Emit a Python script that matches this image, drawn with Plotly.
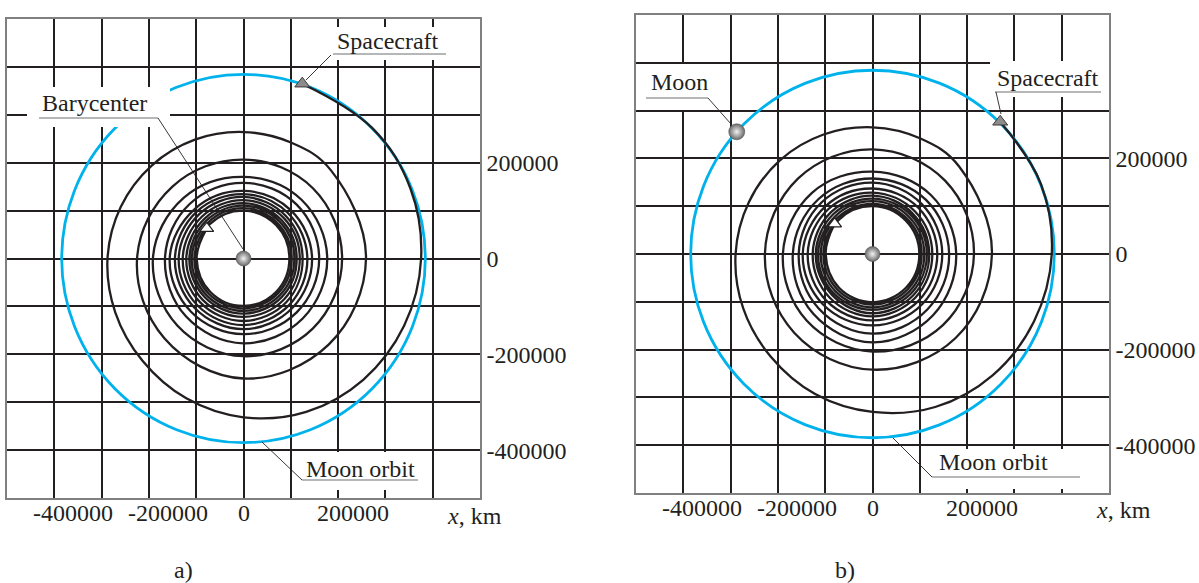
import math
import plotly.graph_objects as go

# ---------------- data (km) ----------------
MOON_ORBIT_R = 384400

# compass directions (deg) at which each revolution of the spiral was sampled
spiral_dirs_deg = [180, 225, 270, 315, 360, 405, 450, 495]

# panel a) trajectory: start point, one row per revolution, final arc to the spacecraft (deg, km)
spiral_a_start = (141.0, 100000)
spiral_a_rows = [
    [99000, 99000, 99000, 98000, 97000, 98000, 100000, 101000],
    [104000, 104000, 104000, 103000, 102000, 103000, 105000, 106000],
    [109500, 109500, 109500, 108500, 107500, 108500, 110500, 111500],
    [114500, 115000, 115000, 114000, 112500, 113500, 115500, 117000],
    [121000, 122000, 122000, 121000, 119000, 120000, 122000, 124000],
    [128500, 129500, 130500, 128500, 125000, 126000, 128500, 131500],
    [137000, 138000, 139000, 137000, 135000, 133500, 134500, 139000],
    [145000, 146000, 147500, 146000, 145000, 142000, 141000, 146000],
    [156000, 157000, 158000, 159000, 160000, 159000, 158000, 161000],
    [166000, 171500, 177000, 177000, 177000, 173500, 170500, 179000],
    [191500, 198000, 204000, 207000, 208500, 207500, 206500, 212500],
    [225000, 236000, 250500, 254500, 259000, 261000],
]
spiral_a_tail = [(67.5, 262000), (90.0, 264000), (112.5, 268500), (135.0, 274500),
                 (157.5, 281000), (180.0, 287500), (202.5, 293500), (225.0, 302000),
                 (247.5, 316000), (270.0, 331500), (292.5, 346500), (315.0, 358000),
                 (337.5, 367500), (360.0, 375500), (22.5, 382000), (45.0, 385000),
                 (71.2, 385500)]

# panel b) trajectory
spiral_b_start = (141.7, 102000)
spiral_b_rows = [
    [99000, 100000, 101000, 100000, 99000, 99000, 100000, 101000],
    [104000, 105000, 106000, 105000, 104000, 104000, 105000, 106000],
    [109500, 110500, 111500, 110500, 109500, 109500, 110500, 111500],
    [115000, 116000, 117000, 116000, 115000, 115000, 116000, 117500],
    [120000, 121000, 124000, 122000, 120000, 120000, 122000, 124000],
    [126500, 128500, 130500, 128500, 126500, 126500, 128500, 132500],
    [137000, 138000, 139000, 138000, 137000, 137000, 137000, 141000],
    [147500, 148500, 149500, 148500, 147500, 147500, 149500, 152500],
    [156000, 161000, 166500, 164000, 162000, 160000, 158000, 162000],
    [168500, 177000, 185000, 181000, 177000, 174500, 172500, 181000],
    [189500, 197000, 204000, 210500, 214500, 217000, 219000, 223000],
    [227500, 233500, 242000, 248500, 252500, 259000],
]
spiral_b_tail = [(67.5, 262000), (90.0, 265000), (112.5, 270500), (135.0, 277000),
                 (157.5, 283000), (180.0, 289500), (202.5, 296000), (225.0, 304000),
                 (247.5, 317000), (270.0, 330500), (292.5, 346500), (315.0, 359000),
                 (337.5, 369500), (360.0, 379000), (22.5, 385000), (45.7, 386500)]

# Moon position in panel b) (deg, km)
moon_b = (138.3, 384400)

x_tick_vals = [-400000, -200000, 0, 200000]
x_tick_text = ["-400000", "-200000", "0", "200000"]
y_tick_vals = [-400000, -300000, -200000, -100000, 0, 100000, 200000, 300000, 400000]
y_tick_text = ["-400000", "", "-200000", "", "0", "", "200000", "", ""]

# ---------------- styling ----------------
W, H = 1199, 583
INK = "#231f20"
CYAN = "rgb(0,178,236)"
FONT = "Liberation Serif"
FS = 24


def polar_to_xy(deg, r):
    a = math.radians(deg)
    return r * math.cos(a), r * math.sin(a)


def spiral_path(start, rows, tail):
    pts = [start]
    for row in rows:
        pts += list(zip(spiral_dirs_deg, row))
    pts += tail
    xs, ys = zip(*(polar_to_xy(d, r) for d, r in pts))
    return list(xs), list(ys)


def px(x, y):
    """page pixel -> paper coordinates"""
    return x / W, 1 - y / H


fig = go.Figure()
shapes = []
annotations = []

panels = [
    dict(xa="x", ya="y", start=spiral_a_start, rows=spiral_a_rows, tail=spiral_a_tail,
         xdom=(7, 480), ydom=(19, 498)),
    dict(xa="x2", ya="y2", start=spiral_b_start, rows=spiral_b_rows, tail=spiral_b_tail,
         xdom=(636, 1109), ydom=(15, 493)),
]

for p in panels:
    # Moon orbit
    shapes.append(dict(type="circle", xref=p["xa"], yref=p["ya"], layer="between",
                       x0=-MOON_ORBIT_R, x1=MOON_ORBIT_R, y0=-MOON_ORBIT_R, y1=MOON_ORBIT_R,
                       line=dict(color=CYAN, width=2.8)))
    sx, sy = spiral_path(p["start"], p["rows"], p["tail"])
    fig.add_trace(go.Scatter(
        x=sx, y=sy, xaxis=p["xa"], yaxis=p["ya"], mode="lines",
        line=dict(color=INK, width=2.3, shape="spline", smoothing=1.1),
        hoverinfo="skip", showlegend=False))
    # barycenter
    fig.add_trace(go.Scatter(
        x=[0], y=[0], xaxis=p["xa"], yaxis=p["ya"], mode="markers",
        marker=dict(symbol="circle", size=15, color="#6a6a6a",
                    gradient=dict(type="radial", color="#f2f2f2"),
                    line=dict(color="#555555", width=0.6)),
        showlegend=False, hoverinfo="skip"))
    # start of the trajectory
    x0, y0 = polar_to_xy(*p["start"])
    fig.add_trace(go.Scatter(
        x=[x0], y=[y0], xaxis=p["xa"], yaxis=p["ya"], mode="markers",
        marker=dict(symbol="triangle-up", size=12, color="white",
                    line=dict(color=INK, width=1.2)),
        showlegend=False, hoverinfo="skip"))
    # spacecraft (last point of the trajectory)
    x1, y1 = polar_to_xy(*p["tail"][-1])
    fig.add_trace(go.Scatter(
        x=[x1], y=[y1], xaxis=p["xa"], yaxis=p["ya"], mode="markers",
        marker=dict(symbol="triangle-up", size=13, color="#8c8c8c",
                    line=dict(color="#3a3a3a", width=1)),
        showlegend=False, hoverinfo="skip"))
    # x tick labels
    for v, t in zip(x_tick_vals, x_tick_text):
        annotations.append(dict(
            x=v, y=-500000, xref=p["xa"], yref=p["ya"], text=t, showarrow=False,
            xanchor="center" if v == 0 else "left", xshift=0 if v == 0 else -23,
            yanchor="middle", yshift=-15, font=dict(family=FONT, size=FS, color=INK)))

# Moon in panel b)
mx, my = polar_to_xy(*moon_b)
fig.add_trace(go.Scatter(
    x=[mx], y=[my], xaxis="x2", yaxis="y2", mode="markers",
    marker=dict(symbol="circle", size=16, color="#6a6a6a",
                gradient=dict(type="radial", color="#f2f2f2"),
                line=dict(color="#555555", width=0.6)),
    showlegend=False, hoverinfo="skip"))


def callout(text, box, center, underline, leader):
    bx0, by0 = px(box[0], box[1])
    bx1, by1 = px(box[2], box[3])
    shapes.append(dict(type="rect", xref="paper", yref="paper", layer="above",
                       x0=bx0, x1=bx1, y0=by1, y1=by0,
                       fillcolor="white", line=dict(width=0)))
    ux0, uy = px(underline[0], underline[2])
    ux1, _ = px(underline[1], underline[2])
    shapes.append(dict(type="line", xref="paper", yref="paper", layer="above",
                       x0=ux0, x1=ux1, y0=uy, y1=uy,
                       line=dict(color="#6d6e71", width=1)))
    lx0, ly0 = px(leader[0], leader[1])
    lx1, ly1 = px(leader[2], leader[3])
    shapes.append(dict(type="line", xref="paper", yref="paper", layer="above",
                       x0=lx0, x1=lx1, y0=ly0, y1=ly1,
                       line=dict(color=INK, width=0.9)))
    cx, cy = px(*center)
    annotations.append(dict(x=cx, y=cy, xref="paper", yref="paper", text=text,
                            showarrow=False, xanchor="center", yanchor="middle",
                            font=dict(family=FONT, size=FS, color=INK)))


# panel a) callouts
callout("Barycenter", (27, 87, 170, 127), (94, 103), (39, 158, 118), (158, 118, 243, 249))
callout("Spacecraft", (330, 27, 448, 60), (388, 41), (333, 446, 54), (331, 55, 306, 80))
callout("Moon orbit", (294, 452, 427, 490), (360, 469), (302, 418, 480), (302, 480, 262, 442))
# panel b) callouts
callout("Moon", (640, 64, 722, 110), (679, 82), (646, 708, 98), (708, 98, 731, 124))
callout("Spacecraft", (990, 61, 1109, 97), (1048, 78), (995, 1101, 92), (996, 92, 1001, 114))
callout("Moon orbit", (926, 449, 1088, 489), (994, 462), (932, 1080, 477), (932, 477, 893, 438))

# axis titles and panel captions
for xa, ya, xs, ys, ysh_x, ysh_y in [("x", "y", 425000, 535000, -18, -4),
                                      ("x2", "y2", 469000, 533000, -17, 1)]:
    annotations.append(dict(x=xs, y=-500000, xref=xa, yref=ya, text="<i>x</i>, km",
                            showarrow=False, xanchor="left", yanchor="middle", yshift=ysh_x,
                            font=dict(family=FONT, size=FS, color=INK)))
    annotations.append(dict(x=ys, y=500000, xref=xa, yref=ya, text="<i>y</i>, km",
                            showarrow=False, xanchor="left", yanchor="middle", yshift=ysh_y,
                            font=dict(family=FONT, size=FS, color=INK)))

for label, (cx, cy) in [("a)", (183, 570)), ("b)", (845, 570))]:
    x, y = px(cx, cy)
    annotations.append(dict(x=x, y=y, xref="paper", yref="paper", text=label,
                            showarrow=False, xanchor="center", yanchor="middle",
                            font=dict(family=FONT, size=FS, color=INK)))

axis_common = dict(range=[-500000, 500000], showgrid=True, gridcolor=INK, gridwidth=1.6,
                   zeroline=True, zerolinecolor=INK, zerolinewidth=1.6,
                   showline=True, mirror=True, linecolor="#808080", linewidth=1.5,
                   ticks="", fixedrange=True)

layout = dict(width=W, height=H, margin=dict(l=0, r=0, t=0, b=0),
              paper_bgcolor="white", plot_bgcolor="white",
              shapes=shapes, annotations=annotations, showlegend=False)

for p, sfx in zip(panels, ["", "2"]):
    xd = [p["xdom"][0] / W, p["xdom"][1] / W]
    yd = [1 - p["ydom"][1] / H, 1 - p["ydom"][0] / H]
    layout["xaxis" + sfx] = dict(axis_common, domain=xd, tickmode="linear", dtick=100000,
                                 tick0=0, showticklabels=False,
                                 anchor="y" + sfx)
    layout["yaxis" + sfx] = dict(axis_common, domain=yd, tickmode="array",
                                 tickvals=y_tick_vals, ticktext=y_tick_text,
                                 side="right", ticklabelstandoff=0,
                                 tickfont=dict(family=FONT, size=FS, color=INK),
                                 anchor="x" + sfx)

fig.update_layout(**layout)
fig.write_html("out.html")
